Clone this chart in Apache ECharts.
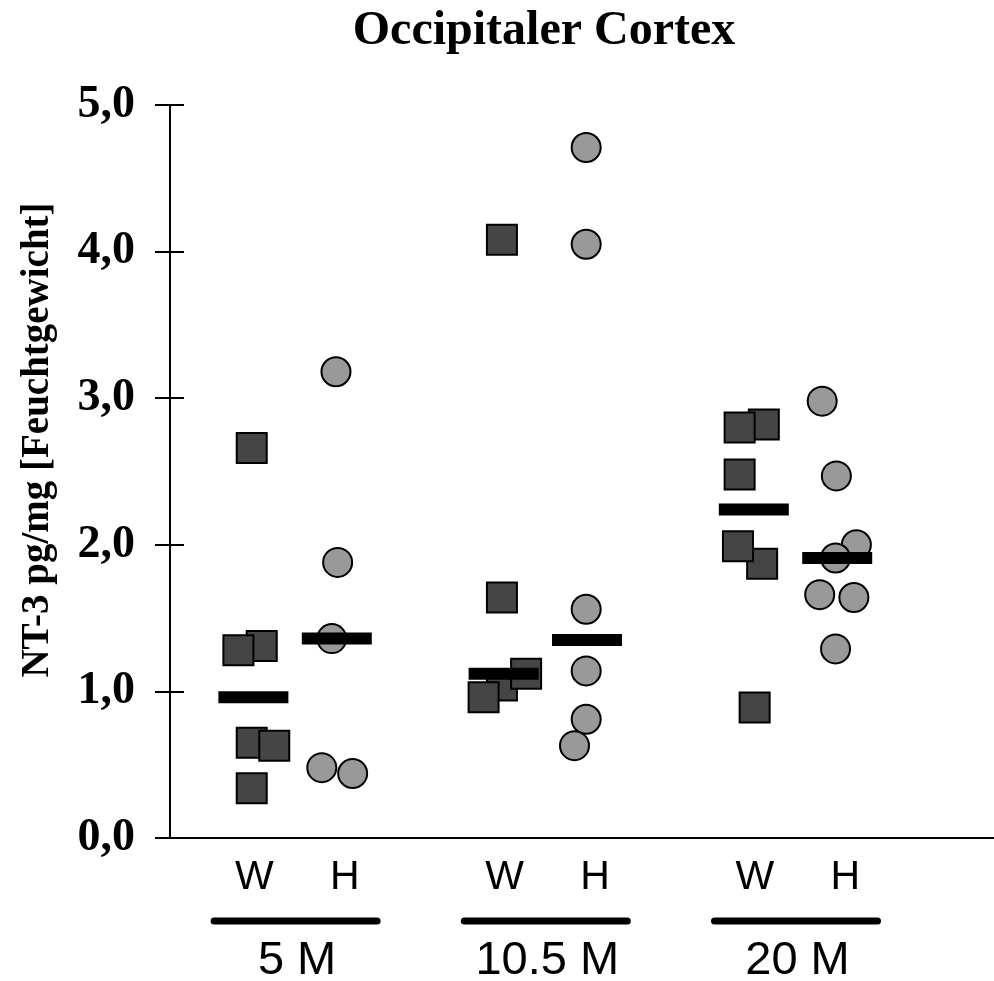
<!DOCTYPE html>
<html>
<head>
<meta charset="utf-8">
<title>Occipitaler Cortex</title>
<script src="https://cdn.jsdelivr.net/npm/echarts@6/dist/echarts.min.js"></script>
<style>
  html, body { margin: 0; padding: 0; background: #fff; }
  #chart { width: 994px; height: 981px; }
</style>
</head>
<body>
<div id="chart"></div>
<script>
// Age groups and genotype columns
const ageGroups = ['5 M', '10.5 M', '20 M'];
const genotypes = ['W', 'H'];

// NT-3 (pg/mg wet weight), wild type, one list per age group
const wtValues = [
  [1.31, 1.28, 2.66, 0.65, 0.63, 0.34],
  [4.08, 1.64, 1.04, 1.12, 0.96],
  [2.82, 2.80, 2.48, 1.87, 1.99, 0.89]
];
// horizontal scatter offsets of the wild type points
const wtJitter = [
  [0.10, -0.18, -0.02, -0.02, 0.25, -0.02],
  [-0.02, -0.02, -0.02, 0.27, -0.24],
  [0.12, -0.17, -0.17, 0.10, -0.19, 0.01]
];

// NT-3 (pg/mg wet weight), H group
const hValues = [
  [3.18, 1.88, 1.36, 0.48, 0.44],
  [4.71, 4.05, 1.56, 1.14, 0.81, 0.63],
  [2.98, 2.47, 2.00, 1.91, 1.66, 1.64, 1.29]
];
const hJitter = [
  [-0.01, 0.01, -0.06, -0.18, 0.19],
  [-0.01, -0.01, -0.01, -0.01, -0.01, -0.15],
  [-0.18, -0.01, 0.23, -0.02, -0.21, 0.20, -0.02]
];

// group medians
const wtMedians = [0.96, 1.12, 2.24];
const hMedians = [1.36, 1.35, 1.91];

// y axis ticks
const yTicks = [0, 1, 2, 3, 4, 5];

// column positions on the hidden x scale: W at 3g+1, H at 3g+2
const colX = (g, k) => 3 * g + 1 + k;

const wtPoints = [];
wtValues.forEach((vals, g) => vals.forEach((v, i) => wtPoints.push([colX(g, 0) + wtJitter[g][i], v])));
const hPoints = [];
hValues.forEach((vals, g) => vals.forEach((v, i) => hPoints.push([colX(g, 1) + hJitter[g][i], v])));
const medianPoints = [];
ageGroups.forEach((_, g) => {
  medianPoints.push([colX(g, 0), wtMedians[g]]);
  medianPoints.push([colX(g, 1), hMedians[g]]);
});

const serif = '"Liberation Serif", "Times New Roman", serif';
const sans = '"Liberation Sans", Arial, sans-serif';

const chart = echarts.init(document.getElementById('chart'), null, { renderer: 'canvas' });

const yBase = {
  type: 'value',
  min: yTicks[0],
  max: yTicks[yTicks.length - 1],
  interval: 1,
  position: 'left',
  splitLine: { show: false },
  axisLine: { show: true, onZero: false, lineStyle: { color: '#000', width: 2 } }
};

chart.setOption({
  animation: false,
  backgroundColor: '#fff',
  grid: { left: 170, right: 0, top: 105, bottom: 143 },
  xAxis: {
    type: 'value',
    min: 0,
    max: 9.88,
    axisLine: { show: true, onZero: false, lineStyle: { color: '#000', width: 2 } },
    axisTick: { show: false },
    axisLabel: { show: false },
    splitLine: { show: false }
  },
  yAxis: [
    Object.assign({}, yBase, {
      axisTick: { show: true, inside: false, length: 15, lineStyle: { color: '#000', width: 2 } },
      axisLabel: {
        show: true,
        margin: 35,
        color: '#000',
        fontFamily: serif,
        fontWeight: 'bold',
        fontSize: 46,
        formatter: v => v.toFixed(1).replace('.', ',')
      }
    }),
    Object.assign({}, yBase, {
      axisTick: { show: true, inside: true, length: 14, lineStyle: { color: '#000', width: 2 } },
      axisLabel: { show: false }
    })
  ],
  series: [
    {
      name: 'W',
      type: 'scatter',
      data: wtPoints,
      symbol: 'rect',
      symbolSize: 30,
      itemStyle: { color: '#454545', borderColor: '#000', borderWidth: 2, opacity: 1 },
      z: 2
    },
    {
      name: 'H',
      type: 'scatter',
      data: hPoints,
      symbol: 'circle',
      symbolSize: 29,
      itemStyle: { color: '#999999', borderColor: '#000', borderWidth: 2, opacity: 1 },
      z: 3
    },
    {
      name: 'Median',
      type: 'scatter',
      data: medianPoints,
      symbol: 'rect',
      symbolSize: [70, 12],
      itemStyle: { color: '#000', opacity: 1 },
      z: 4
    }
  ]
});

// Category labels, group underlines, title and axis name
const px = x => chart.convertToPixel({ gridIndex: 0 }, [x, 0]);
const graphics = [];
ageGroups.forEach((name, g) => {
  genotypes.forEach((gt, k) => {
    const p = px(colX(g, k));
    graphics.push({
      type: 'text',
      x: p[0] + (k === 1 ? 8 : 1),
      y: 878,
      style: { text: gt, font: '41px ' + sans, fill: '#000', align: 'center', verticalAlign: 'middle' }
    });
  });
  const c = px(colX(g, 0) + 0.5);
  graphics.push({
    type: 'line',
    shape: { x1: c[0] - 81, y1: 921, x2: c[0] + 82, y2: 921 },
    style: { stroke: '#000', lineWidth: 7, lineCap: 'round' }
  });
  graphics.push({
    type: 'text',
    x: c[0] + 2,
    y: 961,
    style: { text: name, font: '47px ' + sans, fill: '#000', align: 'center', verticalAlign: 'middle' }
  });
});
graphics.push({
  type: 'text',
  x: 544,
  y: 32,
  style: { text: 'Occipitaler Cortex', font: 'bold 48px ' + serif, fill: '#000', align: 'center', verticalAlign: 'middle' }
});
graphics.push({
  type: 'text',
  x: 38,
  y: 440,
  rotation: Math.PI / 2,
  style: { text: 'NT-3 pg/mg [Feuchtgewicht]', font: 'bold 39px ' + serif, fill: '#000', align: 'center', verticalAlign: 'middle' }
});
chart.setOption({ graphic: graphics });
</script>
</body>
</html>
